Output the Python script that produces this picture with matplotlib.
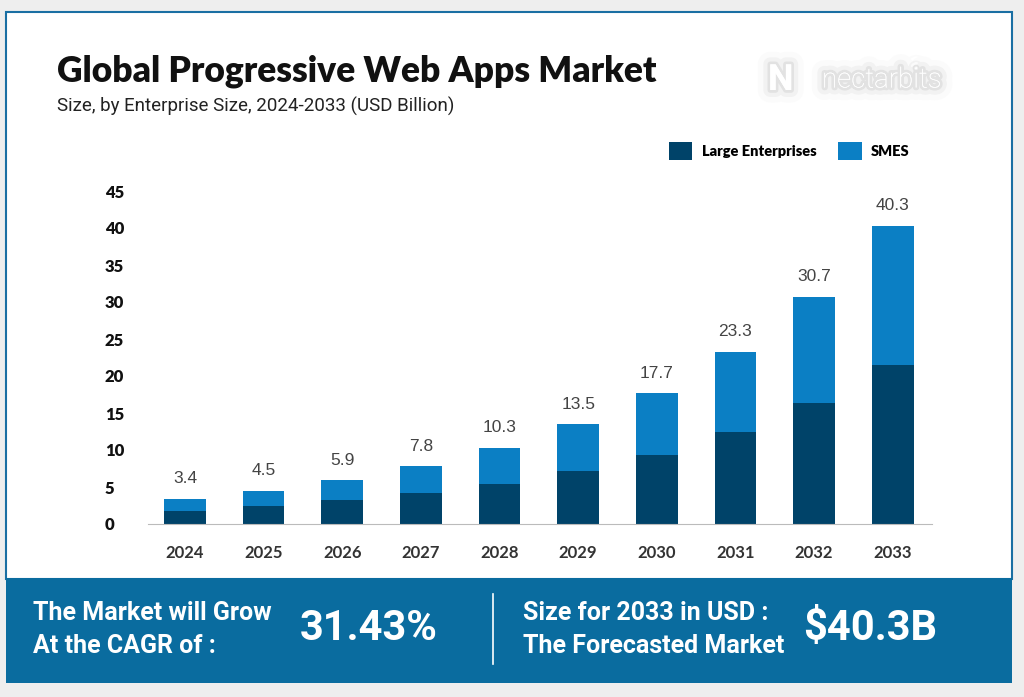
import numpy as np
import matplotlib
matplotlib.use("Agg")
import matplotlib.pyplot as plt
import matplotlib.patheffects as pe
from matplotlib.patches import Rectangle

# 数据
years = ['2024', '2025', '2026', '2027', '2028', '2029', '2030', '2031', '2032', '2033']
totals = [3.4, 4.5, 5.9, 7.8, 10.3, 13.5, 17.7, 23.3, 30.7, 40.3]
large_ent = [1.75, 2.4, 3.2, 4.2, 5.4, 7.2, 9.3, 12.4, 16.4, 21.5]
smes = [round(t - l, 2) for t, l in zip(totals, large_ent)]
yticks = [0, 5, 10, 15, 20, 25, 30, 35, 40, 45]

dark = '#004369'
light = '#0b7fc4'
band = '#0a6c9f'

fig = plt.figure(figsize=(10.24, 6.97), dpi=100)
fig.patch.set_facecolor('#eeeeee')

W, H = 1024, 697
def fx(px):
    return px / W
def fy(py):
    return 1 - py / H

# 白色卡片与底部色带
fig.patches.append(Rectangle((fx(6), fy(579)), fx(1012) - fx(6), fy(12) - fy(579),
                             transform=fig.transFigure, facecolor='white',
                             edgecolor='#1a6fa3', linewidth=1.5, zorder=-2))
fig.patches.append(Rectangle((fx(6), fy(683)), fx(1012) - fx(6), fy(578) - fy(683),
                             transform=fig.transFigure, facecolor=band,
                             edgecolor='none', zorder=-1))

# 标题
fig.text(fx(57), fy(82), 'Global Progressive Web Apps Market', fontsize=25.5,
         fontweight='heavy', family='Lato', color='#111111', va='baseline')
fig.text(fx(57), fy(112), 'Size, by Enterprise Size, 2024-2033 (USD Billion)', fontsize=13.5,
         family='Roboto', color='#222222', va='baseline')

# 标志（白字加柔和灰色光晕）
glow = [pe.withStroke(linewidth=18, foreground='#fbfbfb'),
        pe.withStroke(linewidth=10, foreground='#f2f2f2'),
        pe.withStroke(linewidth=4, foreground='#e2e2e2'),
        pe.Normal()]
fig.text(fx(768), fy(80), 'N', fontsize=26, color='white', fontweight='bold', va='center',
         family='Roboto', path_effects=glow)
fig.text(fx(822), fy(80), 'nectarbits', fontsize=20, color='white', family='Roboto',
         fontweight='light', va='center', path_effects=glow)

# 柱状图
ax = fig.add_axes([fx(148), fy(524), fx(932) - fx(148), fy(191) - fy(524)])
x = np.arange(len(years))
b1 = ax.bar(x, large_ent, width=0.53, color=dark, label='Large Enterprises', zorder=2)
b2 = ax.bar(x, smes, width=0.53, bottom=large_ent, color=light, label='SMES', zorder=2)

for xi, t in zip(x, totals):
    ax.annotate(f'{t}', (xi, t), xytext=(0, 9), textcoords='offset points',
                ha='center', va='bottom', fontsize=12.5, color='#444444', family='Liberation Sans')

ax.set_xlim(-0.47, 9.5)
ax.set_ylim(0, 45)
ax.set_yticks(yticks)
ax.set_xticks(x)
ax.set_xticklabels(years)
for s in ['top', 'right', 'left']:
    ax.spines[s].set_visible(False)
ax.spines['bottom'].set_color('#bbbbbb')
ax.tick_params(axis='both', length=0)
ax.tick_params(axis='y', pad=31, labelsize=12, labelcolor='#111111')
ax.tick_params(axis='x', pad=15, labelsize=12, labelcolor='#333333')
for lbl in ax.get_yticklabels():
    lbl.set_ha('left')
    lbl.set_fontweight('heavy')
    lbl.set_family('Lato')
for lbl in ax.get_xticklabels():
    lbl.set_fontweight('bold')
    lbl.set_family('Lato')
ax.set_facecolor('none')

leg = fig.legend(handles=[b1, b2], loc='center left', bbox_to_anchor=(fx(656), fy(151)),
                 ncol=2, frameon=False, prop={'family': 'Lato', 'weight': 'heavy', 'size': 10.5},
                 handlelength=1.6, handleheight=1.6, columnspacing=1.5, handletextpad=0.65)

# 底部信息
bold = {'family': 'Roboto', 'weight': 'bold', 'color': 'white'}
fig.text(fx(33), fy(613), 'The Market will Grow', fontsize=18, va='center', **bold)
fig.text(fx(33), fy(646), 'At the CAGR of :', fontsize=18, va='center', **bold)
fig.text(fx(300), fy(629), '31.43%', fontsize=30, va='center', **bold)
fig.add_artist(plt.Line2D([fx(493), fx(493)], [fy(594), fy(664)], color='white', linewidth=1.2,
                          transform=fig.transFigure))
fig.text(fx(523), fy(613), 'Size for 2033 in USD :', fontsize=18, va='center', **bold)
fig.text(fx(523), fy(646), 'The Forecasted Market', fontsize=18, va='center', **bold)
fig.text(fx(803), fy(629), '$40.3B', fontsize=30, va='center', **bold)

fig.savefig('out.png', dpi=100, facecolor=fig.get_facecolor())
